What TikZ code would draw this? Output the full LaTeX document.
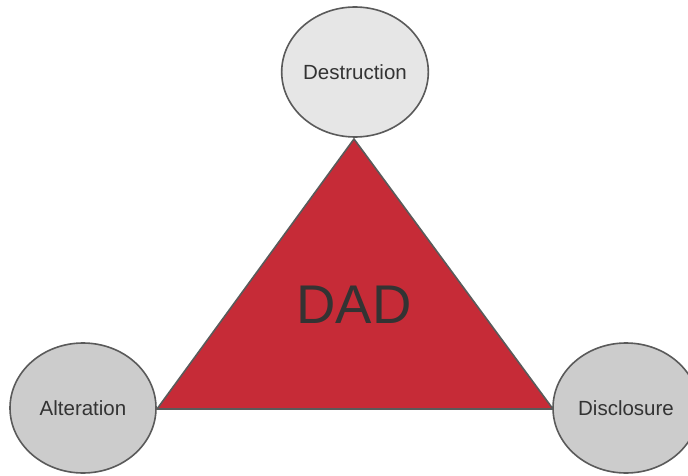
\documentclass[tikz,border=0pt]{standalone}
\usepackage{fontspec}
\setmainfont{Liberation Sans}
\usetikzlibrary{shapes.geometric}
\definecolor{dadred}{HTML}{C62B37}
\definecolor{edgegray}{HTML}{5A5A5A}
\definecolor{toplight}{HTML}{E6E6E6}
\definecolor{sidegray}{HTML}{CCCCCC}
\definecolor{txtgray}{HTML}{333333}
\tikzset{
  bubble/.style={ellipse, draw=edgegray, line width=1.6pt, minimum width=146pt, minimum height=130pt, inner sep=0pt, text=txtgray, font=\fontsize{20.5pt}{24pt}\selectfont},
}
\begin{document}
\begin{tikzpicture}[x=1pt,y=1pt]
\useasboundingbox (0,0) rectangle (688,475);
\coordinate (apex) at (354,336);
\coordinate (bl) at (157,66);
\coordinate (br) at (553,66);
\filldraw[fill=dadred, draw=edgegray, line width=1.6pt, line join=miter] (apex) -- (br) -- (bl) -- cycle;
\node[text=txtgray, font=\fontsize{54.5pt}{60pt}\selectfont] (dad) at (354,170) {DAD};
\node[bubble, fill=toplight] (destr) at (355,403) {Destruction};
\node[bubble, fill=sidegray] (alter) at (83,67) {Alteration};
\node[bubble, fill=sidegray] (discl) at (626,67) {Disclosure};
\end{tikzpicture}
\end{document}
